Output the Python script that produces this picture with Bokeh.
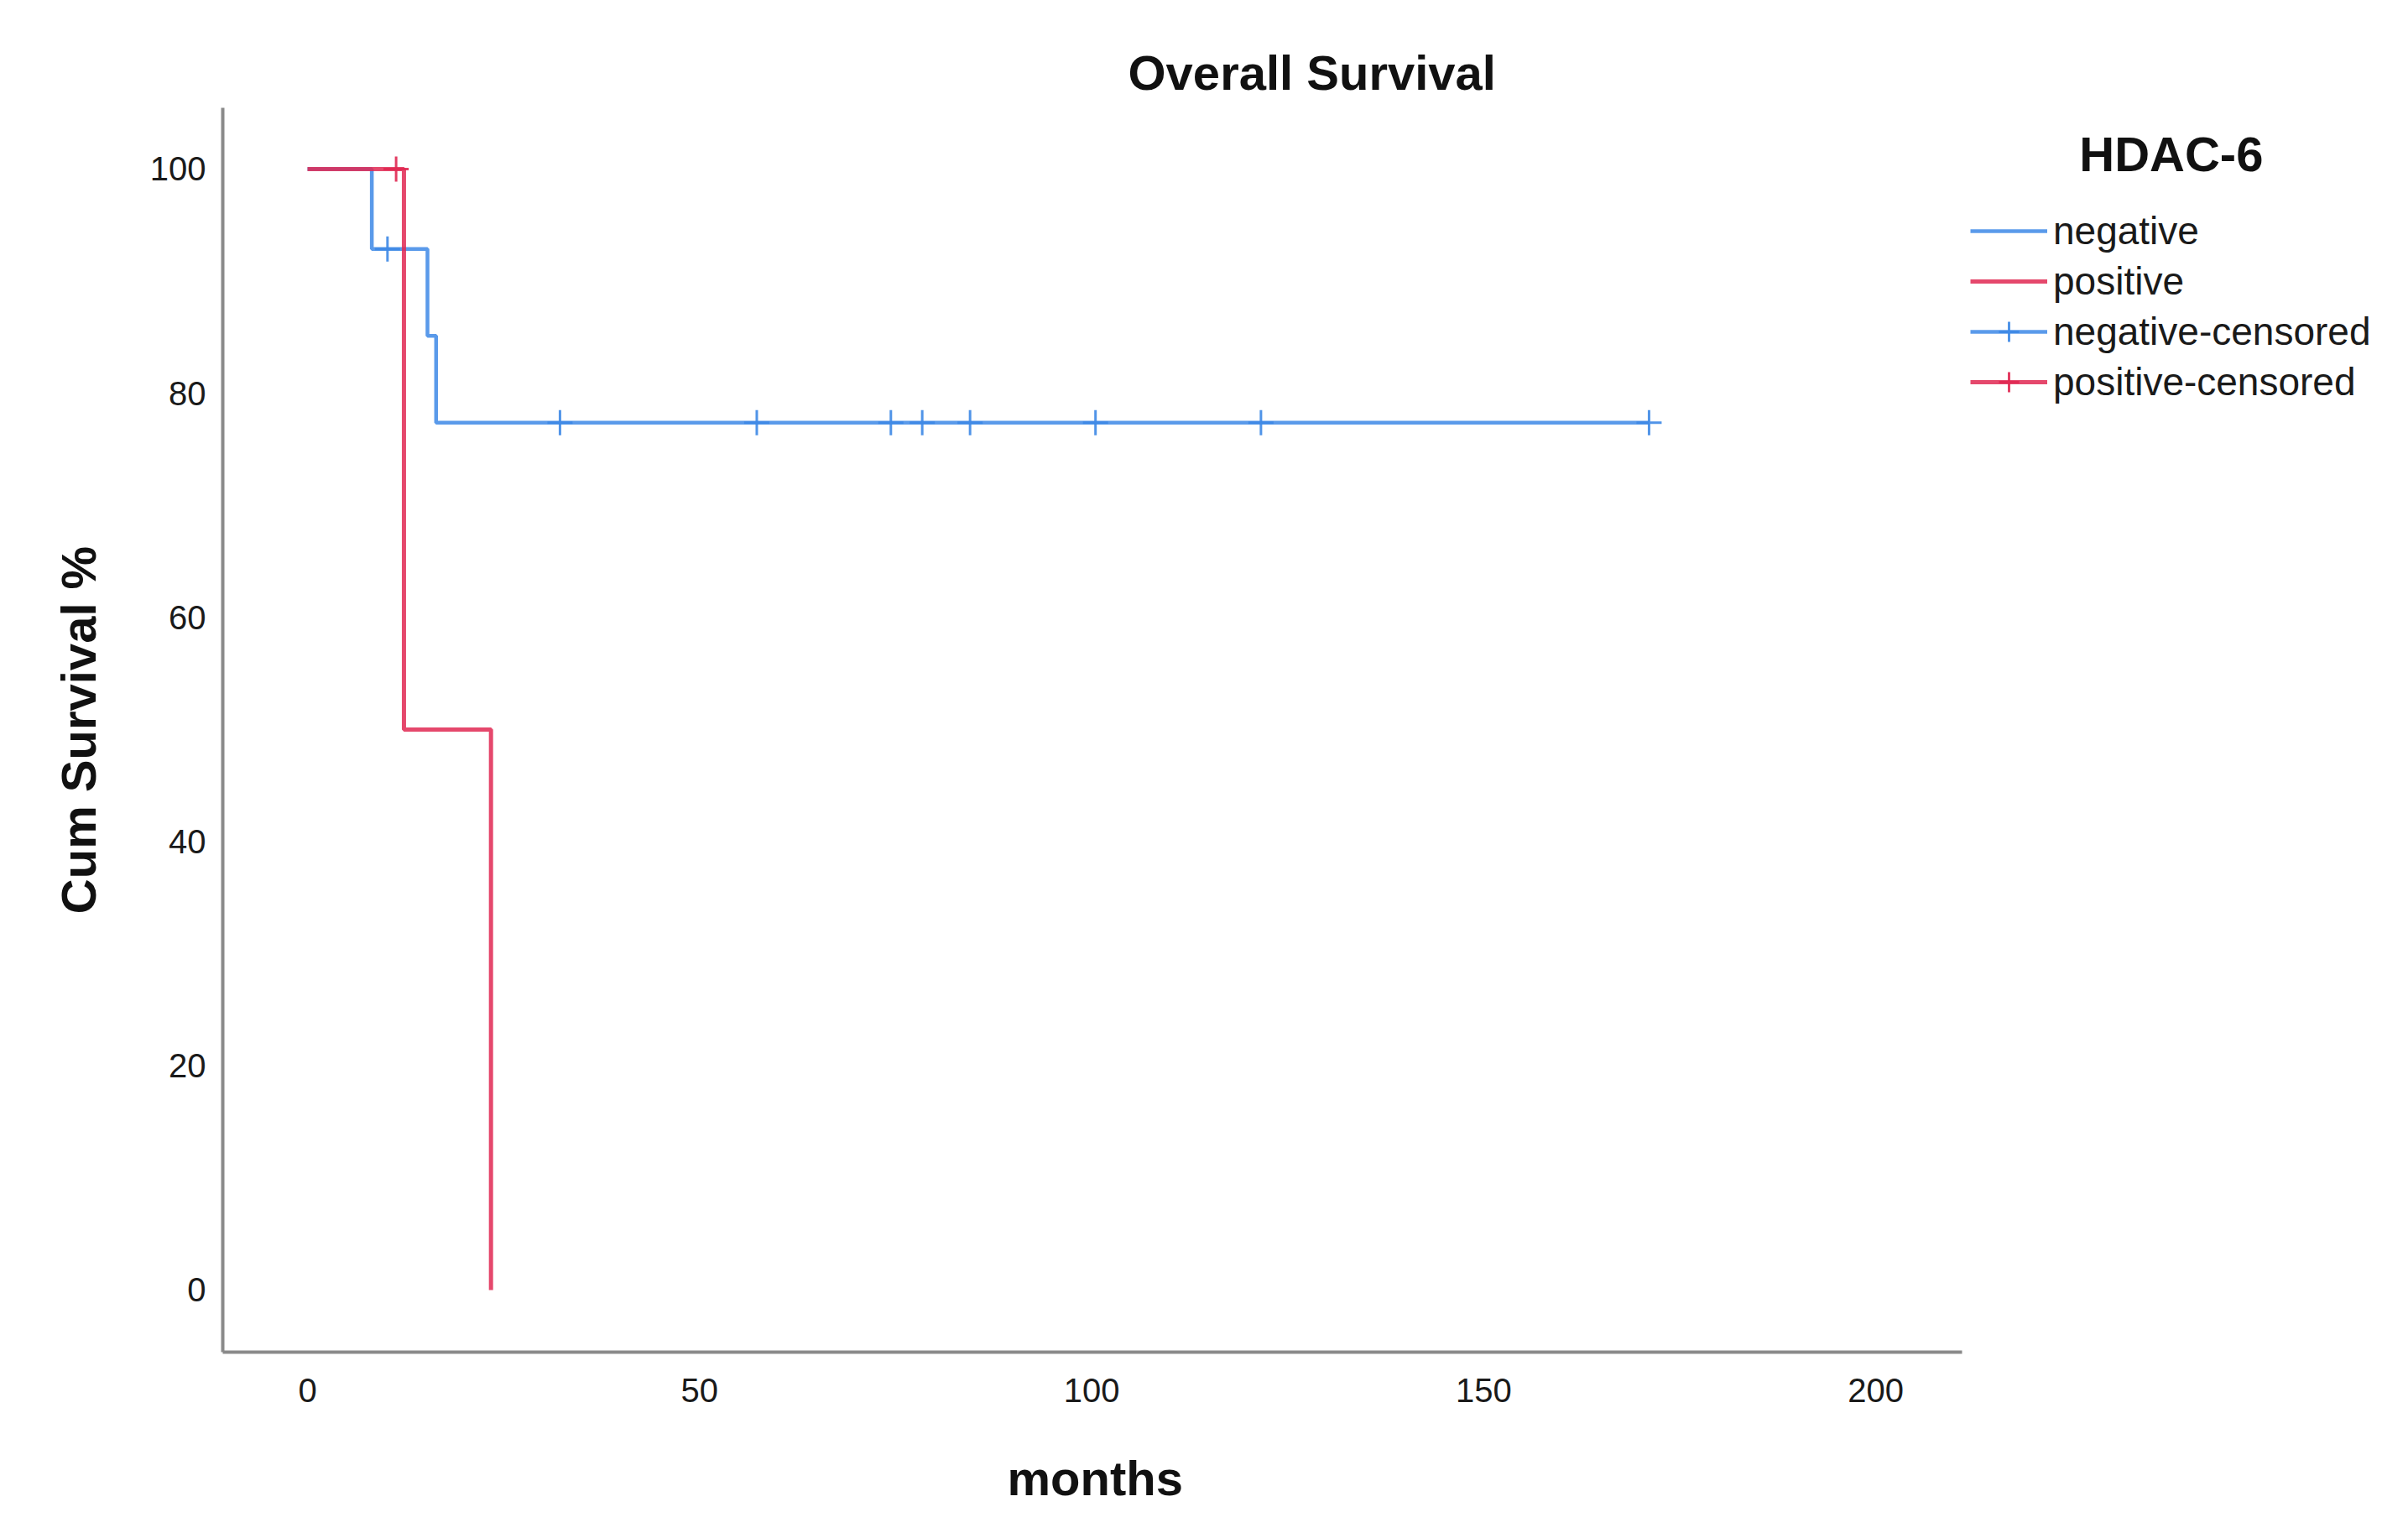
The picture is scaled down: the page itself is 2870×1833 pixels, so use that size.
import numpy as np
from bokeh.plotting import figure
from bokeh.models import FixedTicker, Legend, LegendItem, Label, Range1d, Title
from bokeh.embed import file_html
from bokeh.resources import INLINE

# ---------------- data ----------------
neg_event_months = [8.2, 15.3, 16.4]
neg_event_survival = [92.86, 85.12, 77.38]
neg_censored_months = [10.2, 32.2, 57.3, 74.4, 78.4, 84.5, 100.5, 121.6, 171.1]

pos_event_months = [12.3, 23.4]
pos_event_survival = [50.0, 0.0]
pos_censored_months = [11.3]

x_ticks = [0, 50, 100, 150, 200]
y_ticks = [0, 20, 40, 60, 80, 100]

series_labels = ["negative", "positive", "negative-censored", "positive-censored"]
legend_title = "HDAC-6"

NEG_COLOR = "#3d88e6"
POS_COLOR = "#e02852"
FONT = "Liberation Sans"

X_START, X_AXIS_END = -10.81, 211.0
PX_PER_MONTH = 9.345
FRAME_W, FRAME_H = 2585, 1483


def km_steps(events, surv, censored):
    end = max([events[-1]] + list(censored))
    xs = [0.0] + list(events)
    ys = [100.0] + list(surv)
    if end > events[-1]:
        xs.append(end)
        ys.append(surv[-1])
    return xs, ys


def surv_at(t, events, surv):
    s = 100.0
    for e, v in zip(events, surv):
        if e <= t:
            s = v
    return s


neg_x, neg_y = km_steps(neg_event_months, neg_event_survival, neg_censored_months)
pos_x, pos_y = km_steps(pos_event_months, pos_event_survival, pos_censored_months)
neg_cy = [surv_at(t, neg_event_months, neg_event_survival) for t in neg_censored_months]
pos_cy = [surv_at(t, pos_event_months, pos_event_survival) for t in pos_censored_months]

# ---------------- figure ----------------
p = figure(
    frame_width=FRAME_W, frame_height=FRAME_H,
    min_border_left=265, min_border_right=0,
    min_border_top=128, min_border_bottom=220,
    x_range=Range1d(X_START, X_START + FRAME_W / PX_PER_MONTH),
    y_range=Range1d(-5.54, 105.46),
    output_backend="svg", toolbar_location=None,
    background_fill_color="white", border_fill_color="white",
)
p.outline_line_color = None
p.grid.visible = False

# title
p.title.text = "Overall Survival"
p.title.text_font = FONT
p.title.text_font_style = "bold"
p.title.text_font_size = "58px"
p.title.text_color = "#111111"
p.title.align = "left"
p.title.offset = 1079
p.title.standoff = 20

for ax in (p.xaxis[0], p.yaxis[0]):
    ax.axis_line_color = "#8a8a8a"
    ax.axis_line_width = 4
    ax.major_tick_line_color = None
    ax.minor_tick_line_color = None
    ax.major_tick_out = 0
    ax.major_tick_in = 0
    ax.minor_tick_out = 0
    ax.minor_tick_in = 0
    ax.major_label_text_font = FONT
    ax.major_label_text_font_size = "40px"
    ax.major_label_text_color = "#1a1a1a"
    ax.axis_label_text_font = FONT
    ax.axis_label_text_font_style = "bold"
    ax.axis_label_text_font_size = "58px"
    ax.axis_label_text_color = "#111111"

p.xaxis[0].bounds = (X_START, X_AXIS_END)
p.xaxis[0].ticker = FixedTicker(ticks=x_ticks)
p.yaxis[0].ticker = FixedTicker(ticks=y_ticks)
p.yaxis[0].axis_label = "Cum Survival %"
p.xaxis[0].major_label_standoff = 31
p.yaxis[0].major_label_standoff = 20
p.yaxis[0].axis_label_standoff = 50

# x-axis title, centred under the drawn part of the axis
p.add_layout(Title(text="months", align="left", offset=935, standoff=106,
                   text_font=FONT, text_font_style="bold", text_font_size="58px",
                   text_color="#111111"), "below")

# curves
neg_line = p.step(neg_x, neg_y, mode="after", line_color=NEG_COLOR, line_width=4.5, line_alpha=0.85)
pos_line = p.step(pos_x, pos_y, mode="after", line_color=POS_COLOR, line_width=5, line_alpha=0.85)
neg_cens = p.scatter(neg_censored_months, neg_cy, marker="cross", size=30,
                     line_color=NEG_COLOR, line_width=3, line_alpha=0.9)
pos_cens = p.scatter(pos_censored_months, pos_cy, marker="cross", size=30,
                     line_color=POS_COLOR, line_width=3, line_alpha=0.9)

legend = Legend(
    items=[
        LegendItem(label=series_labels[0], renderers=[neg_line]),
        LegendItem(label=series_labels[1], renderers=[pos_line]),
        LegendItem(label=series_labels[2], renderers=[neg_line, neg_cens]),
        LegendItem(label=series_labels[3], renderers=[pos_line, pos_cens]),
    ],
    location=(2083, 1126),
    padding=0, margin=0, spacing=0,
    glyph_width=92, glyph_height=60, label_height=60, label_standoff=7,
    label_text_font=FONT, label_text_font_size="46px", label_text_color="#1a1a1a",
    background_fill_alpha=0, border_line_alpha=0,
)
p.add_layout(legend)

p.add_layout(Label(x=237.7, y=101.35, text=legend_title, text_align="center",
                   text_baseline="middle", text_font=FONT, text_font_style="bold",
                   text_font_size="58px", text_color="#111111"))

open("out.html", "w").write(file_html(p, INLINE))
